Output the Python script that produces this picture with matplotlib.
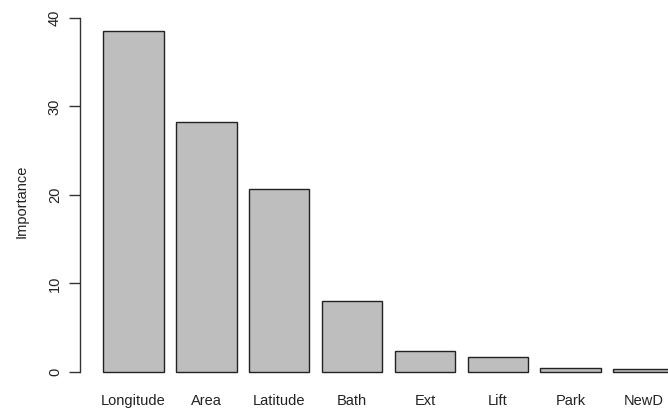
import matplotlib
matplotlib.use("Agg")
import matplotlib.pyplot as plt
import numpy as np

features = ["Longitude", "Area", "Latitude", "Bath", "Ext", "Lift", "Park", "NewD"]
importance = [38.5, 28.2, 20.7, 8.0, 2.4, 1.7, 0.45, 0.3]
y_ticks = [0, 10, 20, 30, 40]

plt.rcParams["font.family"] = ["Liberation Sans", "DejaVu Sans"]

fig = plt.figure(figsize=(6.68, 4.12), dpi=100)
ax = fig.add_axes([80 / 668, (412 - 385.6) / 412, 617 / 668, 368 / 412])

# bar layout: width 1, gap 0.2, as in a base-graphics barplot
width, space = 1.0, 0.2
lefts = space + np.arange(len(features)) * (width + space)
centers = lefts + width / 2

ax.bar(centers, importance, width=width, color="#bebebe",
       edgecolor="#222222", linewidth=1.0)

xmin, xmax = lefts[0], lefts[-1] + width
pad = 0.04 * (xmax - xmin)
ax.set_xlim(xmin - pad, xmax + pad)
top = max(importance)
ax.set_ylim(-0.04 * top, top * 1.04)

for s in ["top", "right", "bottom"]:
    ax.spines[s].set_visible(False)
ax.spines["left"].set_bounds(0, 40)
ax.spines["left"].set_color("#333333")
ax.spines["left"].set_linewidth(1.0)

fs = 10.5
ax.set_yticks(y_ticks)
ax.set_yticklabels([str(v) for v in y_ticks], rotation=90, va="center",
                   fontsize=fs, color="#222222")
ax.tick_params(axis="y", length=8, width=1.0, color="#333333", pad=5)

ax.set_xticks(centers)
ax.set_xticklabels(features, fontsize=fs, color="#222222")
ax.tick_params(axis="x", length=0, pad=6)

ax.set_ylabel("Importance", fontsize=fs, color="#222222", labelpad=14)

fig.savefig("out.png", dpi=100)
